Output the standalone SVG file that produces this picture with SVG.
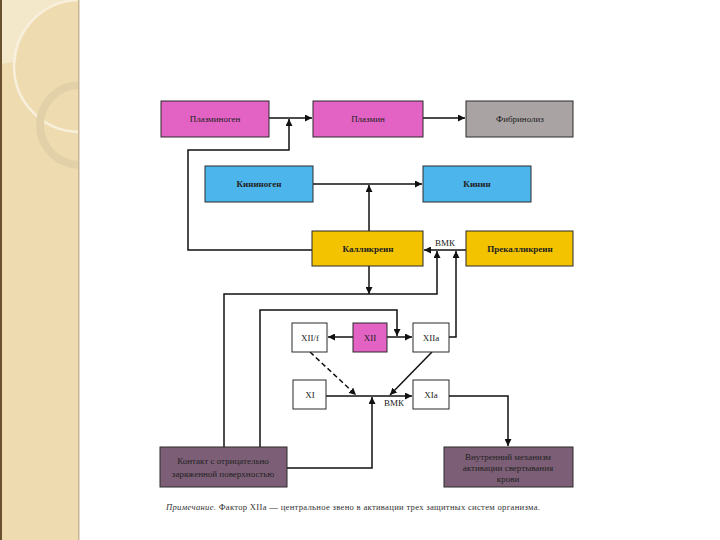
<svg xmlns="http://www.w3.org/2000/svg" width="720" height="540" viewBox="0 0 720 540">
<defs>
<style>
.box{stroke:#2a2a2a;stroke-width:1}
.pink{fill:#e263c4}
.grey{fill:#a9a3a4}
.blue{fill:#4cb6ec}
.yellow{fill:#f3c300}
.white{fill:#ffffff}
.dark{fill:#7c5f76}
.lbl{font-family:"Liberation Serif","DejaVu Serif",serif;font-size:9px;fill:#222;text-anchor:middle}
.lbls{font-family:"Liberation Serif","DejaVu Serif",serif;font-size:9px;fill:#1a1a1a;text-anchor:middle}
.con{fill:none;stroke:#111;stroke-width:1.5}
.cap{font-family:"Liberation Serif","DejaVu Serif",serif;font-size:8.6px;fill:#333}
</style>
<marker id="ah" viewBox="0 0 10 10" refX="10" refY="5" markerWidth="7" markerHeight="7" markerUnits="userSpaceOnUse" orient="auto">
<path d="M0,0 L10,5 L0,10 z" fill="#111"/>
</marker>
<clipPath id="panel"><rect x="0" y="0" width="79" height="540"/></clipPath>
</defs>
<rect width="720" height="540" fill="#ffffff"/>
<g id="sidebar">
<rect x="0" y="0" width="79" height="540" fill="#eedcb0"/>
<g clip-path="url(#panel)">
<path d="M0,0 H76 A66,66 0 0 0 16,62 L0,64 Z" fill="#f4e8ca"/>
<circle cx="80" cy="66" r="66" fill="none" stroke="#f8f0dc" stroke-width="2.5"/>
<circle cx="80" cy="125" r="40" fill="none" stroke="#e2d1a8" stroke-width="8"/>
</g>
<rect x="0" y="0" width="2" height="540" fill="#6b5030"/>
<rect x="78" y="0" width="1.5" height="540" fill="#c9b596"/>
</g>
<g id="connectors">
<path class="con" d="M269,118 H312" marker-end="url(#ah)"/>
<path class="con" d="M423,118 H465" marker-end="url(#ah)"/>
<path class="con" d="M312,250 H188 V150 H289 V119" marker-end="url(#ah)"/>
<path class="con" d="M313,184 H422" marker-end="url(#ah)"/>
<path class="con" d="M369,231 V185" marker-end="url(#ah)"/>
<path class="con" d="M466,250 H424" marker-end="url(#ah)"/>
<path class="con" d="M369,266 V294" marker-end="url(#ah)"/>
<path class="con" d="M224,447 V294 H437 V251" marker-end="url(#ah)"/>
<path class="con" d="M449,337 H456 V251" marker-end="url(#ah)"/>
<path class="con" d="M260,447 V310 H397 V336" marker-end="url(#ah)"/>
<path class="con" d="M353,337 H328" marker-end="url(#ah)"/>
<path class="con" d="M387,337 H412" marker-end="url(#ah)"/>
<path class="con" d="M326,396 H412" marker-end="url(#ah)"/>
<path class="con" d="M310,352 L356,395" stroke-dasharray="5,3" marker-end="url(#ah)"/>
<path class="con" d="M432,352 L390,395" marker-end="url(#ah)"/>
<path class="con" d="M287,468 H372 V397" marker-end="url(#ah)"/>
<path class="con" d="M449,396 H508 V446" marker-end="url(#ah)"/>
<text class="lbls" x="445" y="246">ВМК</text>
<text class="lbls" x="394" y="406">ВМК</text>
</g>
<g id="plasminogen"><rect class="box pink" x="161" y="101" width="108" height="36"/><text class="lbl" x="215" y="122">Плазминоген</text></g>
<g id="plasmin"><rect class="box pink" x="313" y="101" width="110" height="36"/><text class="lbl" x="368" y="122">Плазмин</text></g>
<g id="fibrinolysis"><rect class="box grey" x="466" y="101" width="107" height="36"/><text class="lbl" x="520" y="122">Фибринолиз</text></g>
<g id="kininogen"><rect class="box blue" x="205" y="166" width="108" height="36"/><text class="lbl" x="259" y="187" font-weight="bold">Кининоген</text></g>
<g id="kinin"><rect class="box blue" x="423" y="166" width="108" height="36"/><text class="lbl" x="477" y="187" font-weight="bold">Кинин</text></g>
<g id="kallikrein"><rect class="box yellow" x="312" y="231" width="111" height="35"/><text class="lbl" x="368" y="252" font-weight="bold">Калликреин</text></g>
<g id="prekallikrein"><rect class="box yellow" x="466" y="231" width="107" height="35"/><text class="lbl" x="520" y="252" font-weight="bold">Прекалликреин</text></g>
<g id="xiif"><rect class="box white" x="292" y="323" width="35" height="29"/><text class="lbl" x="310" y="341">XII/f</text></g>
<g id="xii"><rect class="box pink" x="353" y="323" width="34" height="29"/><text class="lbl" x="370" y="341">XII</text></g>
<g id="xiia"><rect class="box white" x="413" y="323" width="36" height="29"/><text class="lbl" x="431" y="341">XIIa</text></g>
<g id="xi"><rect class="box white" x="293" y="380" width="33" height="29"/><text class="lbl" x="310" y="398">XI</text></g>
<g id="xia"><rect class="box white" x="413" y="380" width="36" height="29"/><text class="lbl" x="431" y="398">XIa</text></g>
<g id="contact"><rect class="box dark" x="160" y="447" width="127" height="40"/><text class="lbl" x="223" y="464">Контакт с отрицательно</text><text class="lbl" x="223" y="477">заряженной поверхностью</text></g>
<g id="intrinsic"><rect class="box dark" x="444" y="447" width="129" height="40"/><text class="lbl" x="508" y="460">Внутренний механизм</text><text class="lbl" x="508" y="471">активации свертывания</text><text class="lbl" x="508" y="482">крови</text></g>
<g id="caption"><text class="cap" x="166" y="510" textLength="374" lengthAdjust="spacing"><tspan font-style="italic">Примечание.</tspan>  Фактор XIIa — центральное звено в активации трех защитных систем организма.</text></g>
</svg>
